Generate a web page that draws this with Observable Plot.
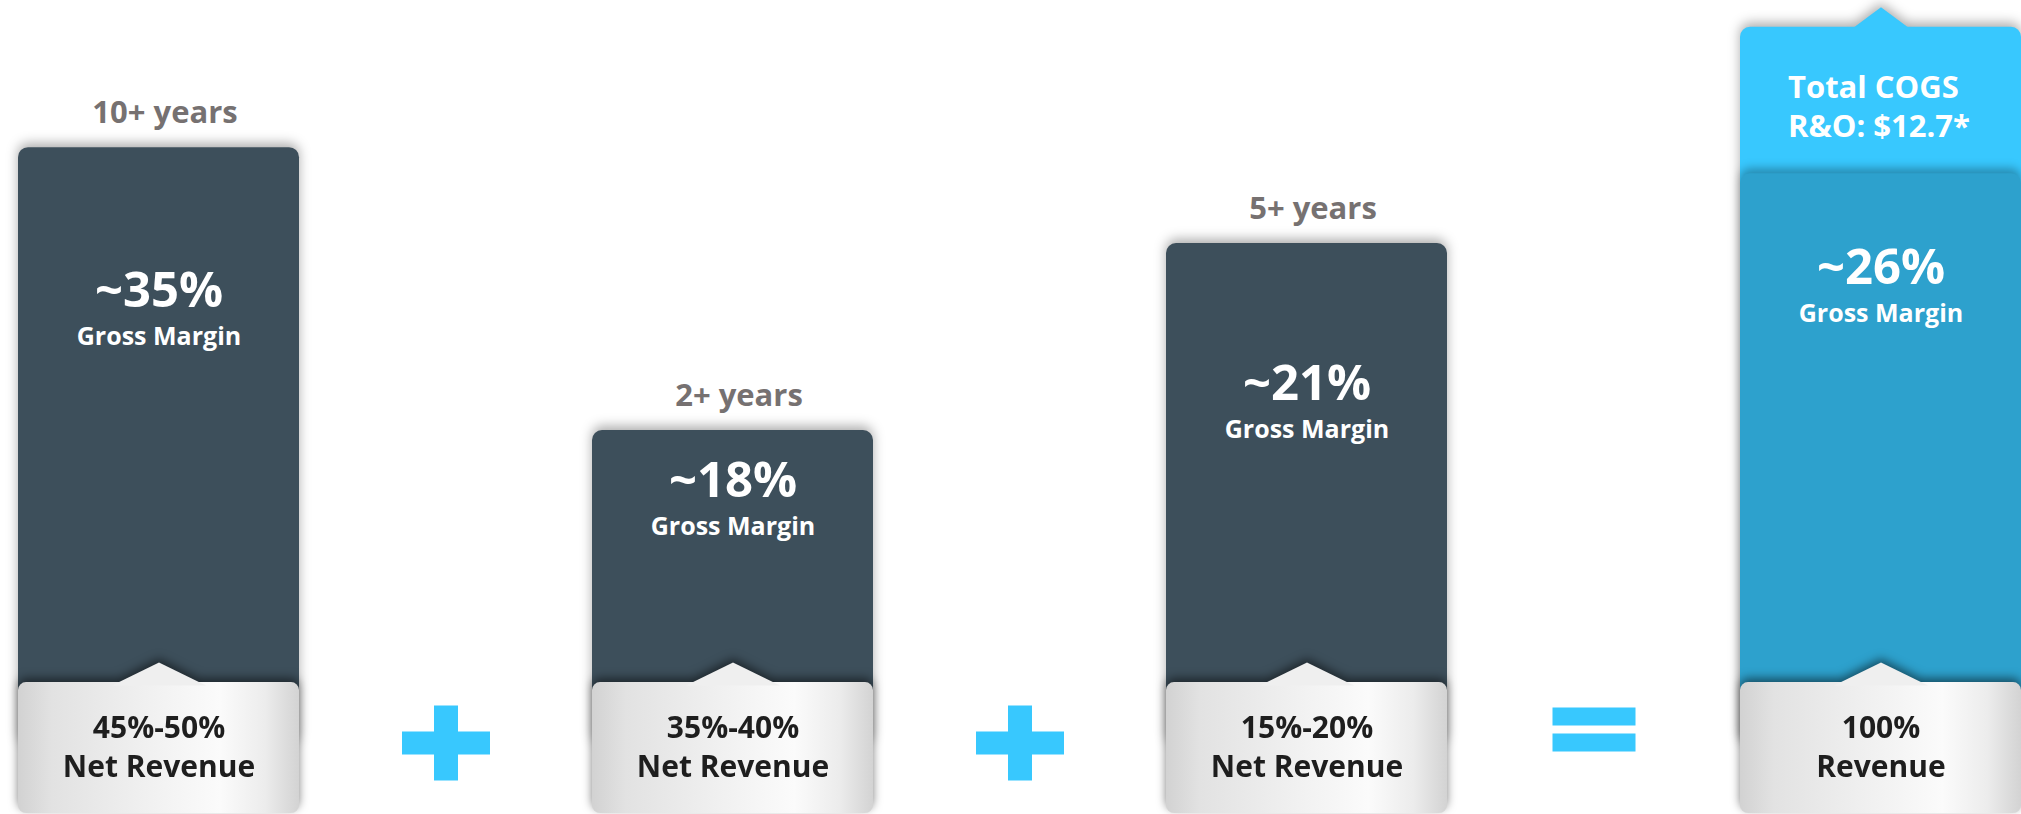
<!DOCTYPE html>
<html><head><meta charset="utf-8">
<script src="https://cdn.jsdelivr.net/npm/d3@7"></script>
<script src="https://cdn.jsdelivr.net/npm/@observablehq/plot@0.6"></script>
<style>html,body{margin:0;padding:0;background:#fff;} svg{display:block}</style>
</head><body><div id="chart"></div>
<script>
// ---- data (heights in chart units 0..100 from the bottom) ----
const categories   = ["10+ years", "2+ years", "5+ years", "Total"];
const yearLabels   = ["10+ years", "2+ years", "5+ years", ""];
const barTop       = [81.9, 47.1, 70.1, 78.7];
const marginLevel  = [62.3, 38.9, 50.8, 65.1];
const grossMargin  = ["~35%", "~18%", "~21%", "~26%"];
const revenueShare = ["45%-50%", "35%-40%", "15%-20%", "100%"];
const revenueLabel = ["Net Revenue", "Net Revenue", "Net Revenue", "Revenue"];
const operators    = ["+", "+", "="];
const cogsTop      = 96.7;
const baseTop      = 16.1;
const cogsLabel    = "Total COGS\nR&O: $12.7*";

const opSlots = ["op1", "op2", "op3"];
const slots = [categories[0], opSlots[0], categories[1], opSlots[1], categories[2], opSlots[2], categories[3]];
const bars = categories.map((c, i) => ({
  cat: c, top: barTop[i], level: marginLevel[i], gm: grossMargin[i],
  share: revenueShare[i] + "\n" + revenueLabel[i], year: yearLabels[i], total: c === "Total"
}));
const ops = operators.map((o, i) => ({slot: opSlots[i], op: o}));

// ---- custom symbols ----
const chevron = {draw(c) { c.moveTo(-47, 3); c.lineTo(0, -20); c.lineTo(47, 3); c.closePath(); }};
const peak    = {draw(c) { c.moveTo(-31, 3); c.lineTo(0, -20); c.lineTo(31, 3); c.closePath(); }};
const plusSym = {draw(c) {
  const a = 12, b = 37.5, w = 44, d = 11.5;
  c.moveTo(-a, -b); c.lineTo(a, -b); c.lineTo(a, -d); c.lineTo(w, -d); c.lineTo(w, d); c.lineTo(a, d);
  c.lineTo(a, b); c.lineTo(-a, b); c.lineTo(-a, d); c.lineTo(-w, d); c.lineTo(-w, -d); c.lineTo(-a, -d); c.closePath();
}};
const eqSym = {draw(c) { c.rect(-41.5, -35.5, 83, 18); c.rect(-41.5, -9.5, 83, 18); }};

const FONT = "'Open Sans', 'Noto Sans', sans-serif";
const DARK = "#3D4F5B", MID = "#2DA1CD", LIGHT = "#38C8FE";

const chart = Plot.plot({
  width: 2021, height: 814,
  marginTop: 0, marginBottom: 0, marginLeft: 0, marginRight: 0,
  style: {background: "#fff", fontFamily: FONT, overflow: "hidden"},
  x: {type: "band", domain: slots, range: [16, 2022], paddingInner: 0.0226, paddingOuter: 0, axis: null},
  y: {domain: [0, 100], range: [813, 0], axis: null},
  marks: [
    // total COGS block (light blue) with peak
    Plot.barY(bars, {filter: d => d.total, x: "cat", y1: baseTop / 2, y2: cogsTop, fill: LIGHT, rx: 10, ariaDescription: "cogs"}),
    Plot.dot(bars, {filter: d => d.total, x: "cat", y: cogsTop, r: 1, symbol: peak, fill: LIGHT, stroke: "none", ariaDescription: "peak"}),
    // gross margin bars
    Plot.barY(bars, {filter: d => !d.total, x: "cat", y1: baseTop / 2, y2: "top", fill: DARK, rx: 10, ariaDescription: "darkbars"}),
    Plot.barY(bars, {filter: d => d.total, x: "cat", y1: baseTop / 2, y2: "top", fill: MID, rx: 10, ariaDescription: "midbar"}),
    // base boxes with chevrons
    Plot.barY(bars, {x: "cat", y1: 0, y2: baseTop, fill: "url(#boxGrad)", rx: 8, ariaDescription: "box"}),
    Plot.dot(bars, {x: "cat", y: baseTop, r: 1, symbol: chevron, fill: "#efefef", stroke: "none", ariaDescription: "chev"}),
    // operators
    Plot.dot(ops, {filter: d => d.op === "+", x: "slot", y: baseTop / 2, dy: -5, r: 1, symbol: plusSym, fill: LIGHT, stroke: "none"}),
    Plot.dot(ops, {filter: d => d.op === "=", x: "slot", y: baseTop / 2, dy: -5, r: 1, symbol: eqSym, fill: LIGHT, stroke: "none"}),
    // texts
    Plot.text(bars, {filter: d => d.year, x: "cat", y: "top", text: "year", dy: -25, dx: 6, lineAnchor: "bottom",
      fontSize: 31, fontWeight: "bold", fill: "#767171", fontFamily: FONT}),
    Plot.text(bars, {x: "cat", y: "level", text: "gm", lineAnchor: "bottom",
      fontSize: 49, fontWeight: "bold", fill: "#fff", fontFamily: FONT}),
    Plot.text(bars, {x: "cat", y: "level", text: () => "Gross Margin", dy: 38, lineAnchor: "bottom",
      fontSize: 25, fontWeight: "bold", fill: "#fff", fontFamily: FONT}),
    Plot.text(bars, {x: "cat", y: baseTop, text: "share", dy: 28, lineAnchor: "top", lineHeight: 1.3,
      fontSize: 30, fontWeight: "bold", fill: "#1e1e1e", fontFamily: FONT}),
    Plot.text(bars, {filter: d => d.total, x: "cat", y: cogsTop, text: () => cogsLabel, dy: 43, dx: -93, textAnchor: "start",
      lineAnchor: "top", lineHeight: 1.26, fontSize: 31, fontWeight: "bold", fill: "#fff", fontFamily: FONT})
  ]
});

document.getElementById("chart").appendChild(chart);

// ---- gradient + soft shadows ----
const svg = d3.select(chart.tagName.toLowerCase() === "svg" ? chart : chart.querySelector("svg"));
svg.insert("defs", ":first-child").html(
  `<linearGradient id="boxGrad" x1="0" x2="1" y1="0" y2="0">
     <stop offset="0" stop-color="#d2d2d2"/>
     <stop offset="0.12" stop-color="#e2e2e2"/>
     <stop offset="0.45" stop-color="#f0f0f0"/>
     <stop offset="0.72" stop-color="#fbfbfb"/>
     <stop offset="0.88" stop-color="#ececec"/>
     <stop offset="1" stop-color="#d3d3d3"/>
   </linearGradient>`);
function wrap(names, filter) {
  const groups = names.map(n => svg.select(`g[aria-description="${n}"]`).node()).filter(Boolean);
  if (!groups.length) return;
  const w = document.createElementNS("http://www.w3.org/2000/svg", "g");
  groups[0].parentNode.insertBefore(w, groups[0]);
  groups.forEach(g => w.appendChild(g));
  w.setAttribute("style", `filter: ${filter}`);
}
wrap(["cogs", "peak"], "drop-shadow(0px -4px 6px rgba(0,0,0,0.32))");
wrap(["darkbars"], "drop-shadow(0px -4px 6px rgba(0,0,0,0.32))");
wrap(["midbar"], "drop-shadow(0px -5px 5px rgba(0,0,0,0.3))");
wrap(["box", "chev"], "drop-shadow(0px -4px 5px rgba(0,0,0,0.5))");
</script>
</body></html>
